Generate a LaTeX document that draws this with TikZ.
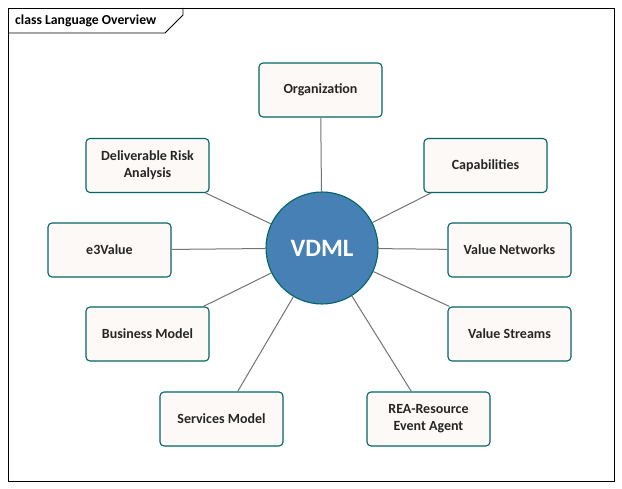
\documentclass[tikz,border=0pt]{standalone}
\usepackage{fontspec}
\setmainfont{Carlito}
\begin{document}
\begin{tikzpicture}[x=1pt,y=-1pt,
  box/.style={draw=teal!80!black, line width=1.1pt, fill={rgb,255:red,253;green,249;blue,246}, rounded corners=4pt, minimum width=123pt, minimum height=54pt, align=center, font=\fontsize{14}{17}\selectfont\bfseries, text=black!85},
  conn/.style={draw=black!55, line width=1pt}]
\useasboundingbox (0,0) rectangle (622,489);
\draw[line width=0.8pt] (8,8) rectangle (614,481);
\draw[line width=0.8pt] (8,33) -- (165,33) -- (183,15) -- (183,8);
\node[anchor=west, inner sep=0pt, font=\fontsize{13.7}{16}\selectfont\bfseries] (title) at (15,20.5) {class Language Overview};
\node[circle, draw=teal!80!black, line width=1.1pt, fill={rgb,255:red,70;green,128;blue,180}, minimum size=112pt, text=white, font=\fontsize{25}{30}\selectfont\bfseries] (v) at (322,248) {VDML};
\node[box] (org) at (320.5,90) {Organization};
\node[box] (cap) at (485.5,165.5) {Capabilities};
\node[box] (vn) at (509.5,250) {Value Networks};
\node[box] (vs) at (509.5,334) {Value Streams};
\node[box] (rea) at (428.5,419) {REA-Resource\\Event Agent};
\node[box] (sm) at (221.5,419) {Services Model};
\node[box] (bm) at (147.5,334) {Business Model};
\node[box] (e3) at (109.5,250) {e3Value};
\node[box] (dra) at (147.5,165.5) {Deliverable Risk\\Analysis};
\draw[conn] (org) -- (v);
\draw[conn] (cap) -- (v);
\draw[conn] (vn) -- (v);
\draw[conn] (vs) -- (v);
\draw[conn] (rea) -- (v);
\draw[conn] (sm) -- (v);
\draw[conn] (bm) -- (v);
\draw[conn] (e3) -- (v);
\draw[conn] (dra) -- (v);
\end{tikzpicture}
\end{document}
